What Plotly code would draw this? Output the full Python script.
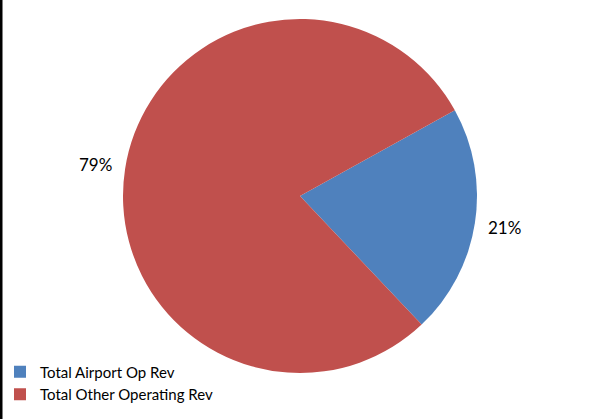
import math
import plotly.graph_objects as go

labels = ["Total Airport Op Rev", "Total Other Operating Rev"]
values = [21, 79]
colors = ["#4F81BD", "#C0504D"]

W, H = 590, 419
ML = 4                             # left margin in pixels
PW = W - ML                        # plot width in pixels
CX, CY, R = 300, 196, 177          # pie centre / radius in pixels
LABEL_R = 207                      # label distance from centre in pixels
ROTATION = 61                      # degrees clockwise from 12 o'clock


def px2x(px):
    return (px - ML) / PW


def py2y(py):
    return 1 - py / H


fig = go.Figure(go.Pie(
    labels=labels,
    values=values,
    sort=False,
    direction="clockwise",
    rotation=ROTATION,
    marker=dict(colors=colors, line=dict(width=0)),
    textinfo="none",
    domain=dict(x=[px2x(CX - R), px2x(CX + R)], y=[py2y(CY + R), py2y(CY - R)]),
    showlegend=True,
    hoverinfo="label+percent",
))

# percentage labels placed outside the slices at their mid-angles
total = sum(values)
start = 90 - ROTATION  # math-angle of first slice start
annotations = []
acc = 0
for v in values:
    mid = start - 360 * (acc + v / 2) / total
    acc += v
    px = CX + LABEL_R * math.cos(math.radians(mid))
    py = CY - LABEL_R * math.sin(math.radians(mid))
    annotations.append(dict(
        x=px2x(px), y=py2y(py), xref="paper", yref="paper",
        text=f"{round(100 * v / total)}%", showarrow=False,
        xanchor="center", yanchor="middle",
        font=dict(family="Lato", size=17, color="#000000"),
    ))

fig.update_layout(
    width=W, height=H,
    margin=dict(l=ML, r=0, t=0, b=0, autoexpand=False),
    paper_bgcolor="white",
    plot_bgcolor="white",
    font=dict(family="Lato", color="#000000"),
    annotations=annotations,
    legend=dict(
        x=px2x(0), y=0.02, xanchor="left", yanchor="bottom",
        font=dict(family="Lato", size=15, color="#000000"),
        tracegroupgap=0, itemwidth=30,
        bgcolor="rgba(0,0,0,0)",
    ),
    shapes=[dict(type="rect", xref="paper", yref="paper", layer="above",
                 x0=px2x(0), x1=px2x(2.5), y0=0, y1=1,
                 fillcolor="black", line=dict(width=0))],
)

fig.write_html("out.html")
